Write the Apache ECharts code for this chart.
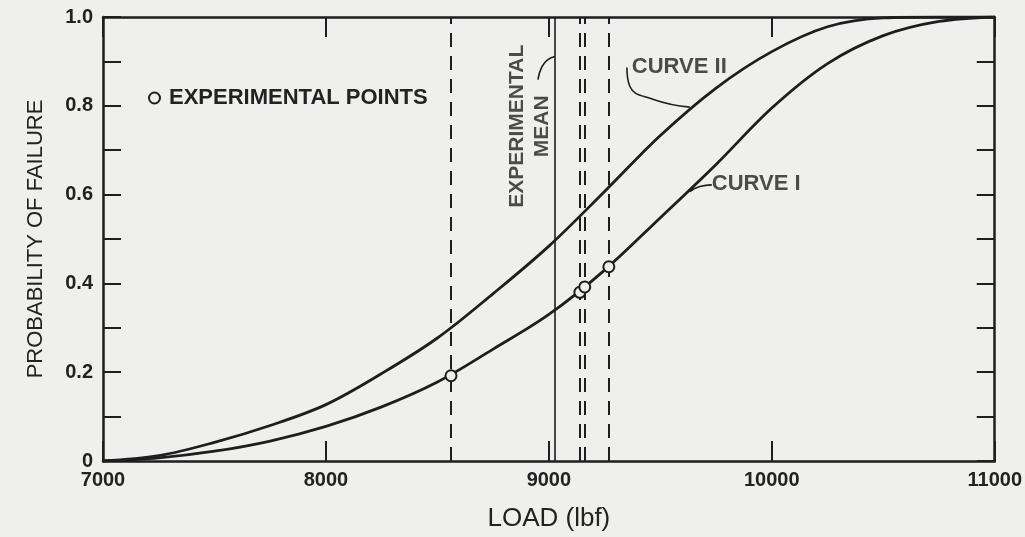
<html>
<head>
    <meta http-equiv="Content-Type" content="text/html; charset=utf-8" />
    <title>Probability of failure</title>
    <style>
        body { margin: 0; background: #efefed; }
        #container { width: 1025px; height: 537px; }
    </style>
</head>
<body>
    <div id="container"></div>
    <script src="https://cdn.jsdelivr.net/npm/echarts@6/dist/echarts.min.js"></script>
    <script type="text/javascript">
    // load grid (lbf) shared by both curves
    var loads = [7000, 7250, 7500, 7750, 8000, 8250, 8500, 8750, 9000, 9250, 9500, 9750, 10000, 10250, 10500, 10750, 11000];
    var curve1 = [0, 0.007, 0.022, 0.045, 0.078, 0.122, 0.178, 0.252, 0.33, 0.43, 0.548, 0.668, 0.795, 0.895, 0.958, 0.99, 1.0];
    var curve2 = [0, 0.012, 0.042, 0.08, 0.127, 0.197, 0.277, 0.377, 0.484, 0.607, 0.733, 0.84, 0.922, 0.978, 0.998, 1.0, 1.0];

    // experimental points and their load lines
    var expLoads = [8561, 9139, 9161, 9269];
    var expProb = [0.192, 0.38, 0.392, 0.4375];
    var meanLoad = 9027;

    // annotation leader lines
    var lead2 = [[9350, 0.886], [9363, 0.844], [9466, 0.815], [9632, 0.797]];
    var lead1 = [[9632, 0.607], [9677, 0.618], [9731, 0.622]];
    var leadMean = [[8951, 0.859], [8969, 0.888], [8996, 0.904], [9027, 0.911]];

    var xTickLabels = ['7000', '8000', '9000', '10000', '11000'];
    var yTickLabels = ['0', '0.2', '0.4', '0.6', '0.8', '1.0'];

    var ink = '#1e1e1e';
    var txt = '#222222';
    var bg = '#efefed';

    function pairs(xs, ys) {
        var out = [];
        for (var i = 0; i < xs.length; i++) out.push([xs[i], ys[i]]);
        return out;
    }

    var xAxisBase = {
        type: 'value', min: 7000, max: 11000, interval: 1000,
        axisLine: { show: true, onZero: false, lineStyle: { color: ink, width: 2.5 } },
        axisTick: { show: true, inside: true, length: 20, lineStyle: { color: ink, width: 2 } },
        splitLine: { show: false }
    };
    var yAxisBase = {
        type: 'value', min: 0, max: 1, interval: 0.1,
        axisLine: { show: true, lineStyle: { color: ink, width: 2.5 } },
        axisTick: { show: true, inside: true, length: 18, lineStyle: { color: ink, width: 2 } },
        splitLine: { show: false }
    };

    var myChart = echarts.init(document.getElementById('container'));

    var option = {
        backgroundColor: bg,
        animation: false,
        textStyle: { fontFamily: 'Liberation Sans, Arial, sans-serif', color: txt },
        grid: { left: 103, right: 30, top: 17, bottom: 72 },
        legend: {
            left: 143, top: 82,
            itemWidth: 11, itemHeight: 11, itemGap: 6,
            data: ['EXPERIMENTAL POINTS'],
            textStyle: { fontSize: 22, fontWeight: 'bold', color: txt, padding: [0, 0, 0, 4] }
        },
        xAxis: [
            Object.assign({}, xAxisBase, {
                position: 'bottom',
                name: 'LOAD (lbf)', nameLocation: 'middle', nameGap: 45,
                nameTextStyle: { fontSize: 26, color: txt },
                axisLabel: {
                    fontSize: 20, fontWeight: 'bold', color: txt, margin: 9,
                    formatter: function (v) { return xTickLabels[Math.round((v - 7000) / 1000)]; }
                }
            }),
            Object.assign({}, xAxisBase, { position: 'top', axisLabel: { show: false } })
        ],
        yAxis: [
            Object.assign({}, yAxisBase, {
                position: 'left',
                name: 'PROBABILITY OF FAILURE', nameLocation: 'middle', nameGap: 56,
                nameTextStyle: { fontSize: 22, color: txt },
                axisLabel: {
                    fontSize: 20, fontWeight: 'bold', color: txt, margin: 10,
                    formatter: function (v) {
                        var i = Math.round(v * 10);
                        return i % 2 === 0 ? yTickLabels[i / 2] : '';
                    }
                }
            }),
            Object.assign({}, yAxisBase, { position: 'right', axisLabel: { show: false } })
        ],
        series: [
            {
                name: 'CURVE I', type: 'line', smooth: 0.35, symbol: 'none',
                lineStyle: { color: ink, width: 2.8 },
                data: pairs(loads, curve1),
                markLine: {
                    silent: true, symbol: 'none', label: { show: false },
                    lineStyle: { color: ink, width: 2, type: [14, 9] },
                    data: expLoads.map(function (x) { return { xAxis: x }; })
                }
            },
            {
                name: 'CURVE II', type: 'line', smooth: 0.35, symbol: 'none',
                lineStyle: { color: ink, width: 2.8 },
                data: pairs(loads, curve2),
                markLine: {
                    silent: true, symbol: 'none', label: { show: false },
                    lineStyle: { color: ink, width: 1.6, type: 'solid' },
                    data: [{ xAxis: meanLoad }]
                }
            },
            {
                name: 'lead', type: 'line', smooth: true, symbol: 'none',
                lineStyle: { color: ink, width: 1.6 }, data: lead2
            },
            {
                name: 'lead', type: 'line', smooth: true, symbol: 'none',
                lineStyle: { color: ink, width: 1.6 }, data: lead1
            },
            {
                name: 'lead', type: 'line', smooth: true, symbol: 'none',
                lineStyle: { color: ink, width: 1.6 }, data: leadMean
            },
            {
                name: 'EXPERIMENTAL POINTS', type: 'scatter', symbol: 'circle', symbolSize: 11,
                itemStyle: { color: bg, borderColor: ink, borderWidth: 2, opacity: 1 },
                z: 5,
                data: pairs(expLoads, expProb)
            },
            {
                name: 'notes', type: 'scatter', symbolSize: 0, silent: true,
                label: { show: true, fontSize: 22, fontWeight: 'bold', color: txt },
                data: [
                    { value: [9372, 0.888], label: { position: 'right', distance: 0, formatter: 'CURVE II' } },
                    { value: [9731, 0.625], label: { position: 'right', distance: 0, formatter: 'CURVE I' } },
                    {
                        value: [8915, 0.754],
                        label: {
                            position: 'inside', rotate: 90, align: 'center', verticalAlign: 'middle',
                            lineHeight: 25, fontSize: 21, formatter: 'EXPERIMENTAL\nMEAN'
                        }
                    }
                ]
            }
        ]
    };

    myChart.setOption(option);
    </script>
</body>
</html>
